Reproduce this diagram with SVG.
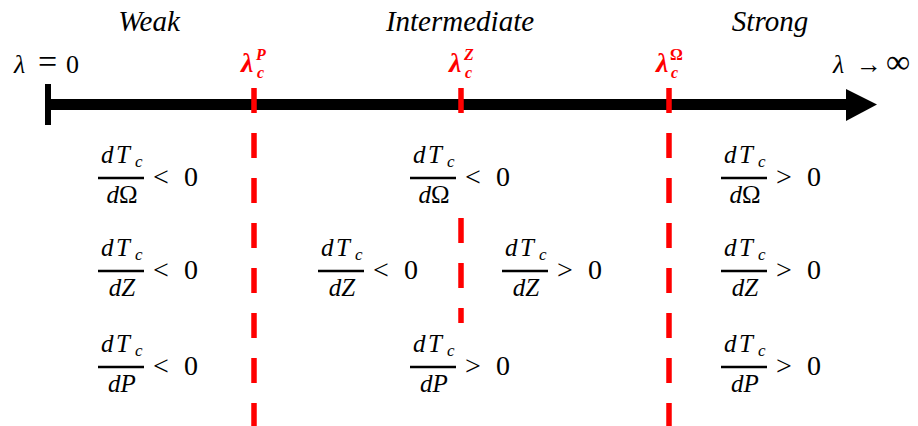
<svg xmlns="http://www.w3.org/2000/svg" width="918" height="426" viewBox="0 0 918 426">
<defs>
  <marker id="unused" markerWidth="1" markerHeight="1"/>
</defs>

<!-- regime headings -->
<g id="head-weak"><text x="149" y="31" text-anchor="middle" font-family="Liberation Serif, serif" font-size="29" font-style="italic">Weak</text></g>
<g id="head-intermediate"><text x="460" y="31" text-anchor="middle" font-family="Liberation Serif, serif" font-size="29" font-style="italic">Intermediate</text></g>
<g id="head-strong"><text x="770" y="31" text-anchor="middle" font-family="Liberation Serif, serif" font-size="29" font-style="italic">Strong</text></g>

<!-- axis end labels -->
<g id="label-zero">
  <text y="73" font-family="Liberation Serif, serif" font-size="26"><tspan font-style="italic" x="14">λ</tspan><tspan x="38" font-size="34">=</tspan><tspan x="66">0</tspan></text>
</g>
<g id="label-inf">
  <text y="73" font-family="Liberation Serif, serif" font-size="26"><tspan font-style="italic" x="833">λ</tspan><tspan x="856">→</tspan><tspan x="886" font-size="34">∞</tspan></text>
</g>

<!-- critical points -->
<g id="lambda-P"><text x="241" y="72" fill="#ff0000" font-family="Liberation Serif, serif" font-size="28" font-style="italic" font-weight="bold">λ<tspan font-size="16" x="256" y="60">P</tspan><tspan font-size="16" x="257" y="78">c</tspan></text></g>
<g id="lambda-Z"><text x="449" y="72" fill="#ff0000" font-family="Liberation Serif, serif" font-size="28" font-style="italic" font-weight="bold">λ<tspan font-size="16" x="464" y="60">Z</tspan><tspan font-size="16" x="465" y="78">c</tspan></text></g>
<g id="lambda-Omega"><text x="656" y="72" fill="#ff0000" font-family="Liberation Serif, serif" font-size="28" font-style="italic" font-weight="bold">λ<tspan font-size="16" font-style="normal" x="670" y="60">Ω</tspan><tspan font-size="16" x="671" y="78">c</tspan></text></g>

<!-- axis and dividers -->
<g id="connectors">
  <line x1="48" y1="104.5" x2="850" y2="104.5" stroke="#000" stroke-width="11"/>
  <rect x="45" y="84" width="6" height="41" fill="#000"/>
  <polygon points="846,89 877,104.5 846,121" fill="#000"/>
  <g stroke="#ff0000" stroke-width="5.5" stroke-dasharray="25 20" fill="none">
    <line x1="254" y1="88" x2="254" y2="426"/>
    <line x1="461" y1="88" x2="461" y2="113"/>
    <line x1="461" y1="218" x2="461" y2="323"/>
    <line x1="669" y1="88" x2="669" y2="426"/>
  </g>
</g>

<!-- derivative expressions -->
<g id="weak-omega">
  <text y="163" font-family="Liberation Serif, serif" font-size="25" font-style="italic"><tspan x="101">d</tspan><tspan x="116">T</tspan><tspan font-size="17" x="135" y="167">c</tspan></text>
  <line stroke="#000" stroke-width="2.5" x1="98" y1="178" x2="144" y2="178"/>
  <text x="122" y="203" text-anchor="middle" font-family="Liberation Serif, serif" font-size="25" font-style="italic">d<tspan font-style="normal">Ω</tspan></text>
  <text y="186" font-family="Liberation Serif, serif" font-size="28"><tspan x="153">&lt;</tspan><tspan x="184">0</tspan></text>
</g>
<g id="weak-z">
  <text y="256" font-family="Liberation Serif, serif" font-size="25" font-style="italic"><tspan x="101">d</tspan><tspan x="116">T</tspan><tspan font-size="17" x="135" y="260">c</tspan></text>
  <line stroke="#000" stroke-width="2.5" x1="98" y1="271" x2="144" y2="271"/>
  <text x="122" y="296" text-anchor="middle" font-family="Liberation Serif, serif" font-size="25" font-style="italic">dZ</text>
  <text y="279" font-family="Liberation Serif, serif" font-size="28"><tspan x="153">&lt;</tspan><tspan x="184">0</tspan></text>
</g>
<g id="weak-p">
  <text y="352" font-family="Liberation Serif, serif" font-size="25" font-style="italic"><tspan x="101">d</tspan><tspan x="116">T</tspan><tspan font-size="17" x="135" y="356">c</tspan></text>
  <line stroke="#000" stroke-width="2.5" x1="98" y1="367" x2="144" y2="367"/>
  <text x="122" y="392" text-anchor="middle" font-family="Liberation Serif, serif" font-size="25" font-style="italic">dP</text>
  <text y="375" font-family="Liberation Serif, serif" font-size="28"><tspan x="153">&lt;</tspan><tspan x="184">0</tspan></text>
</g>

<g id="mid-omega">
  <text y="163" font-family="Liberation Serif, serif" font-size="25" font-style="italic"><tspan x="413">d</tspan><tspan x="428">T</tspan><tspan font-size="17" x="447" y="167">c</tspan></text>
  <line stroke="#000" stroke-width="2.5" x1="410" y1="178" x2="456" y2="178"/>
  <text x="434" y="203" text-anchor="middle" font-family="Liberation Serif, serif" font-size="25" font-style="italic">d<tspan font-style="normal">Ω</tspan></text>
  <text y="186" font-family="Liberation Serif, serif" font-size="28"><tspan x="465">&lt;</tspan><tspan x="496">0</tspan></text>
</g>
<g id="mid-z-low">
  <text y="256" font-family="Liberation Serif, serif" font-size="25" font-style="italic"><tspan x="321">d</tspan><tspan x="336">T</tspan><tspan font-size="17" x="355" y="260">c</tspan></text>
  <line stroke="#000" stroke-width="2.5" x1="318" y1="271" x2="364" y2="271"/>
  <text x="342" y="296" text-anchor="middle" font-family="Liberation Serif, serif" font-size="25" font-style="italic">dZ</text>
  <text y="279" font-family="Liberation Serif, serif" font-size="28"><tspan x="373">&lt;</tspan><tspan x="404">0</tspan></text>
</g>
<g id="mid-z-high">
  <text y="256" font-family="Liberation Serif, serif" font-size="25" font-style="italic"><tspan x="505">d</tspan><tspan x="520">T</tspan><tspan font-size="17" x="539" y="260">c</tspan></text>
  <line stroke="#000" stroke-width="2.5" x1="502" y1="271" x2="548" y2="271"/>
  <text x="526" y="296" text-anchor="middle" font-family="Liberation Serif, serif" font-size="25" font-style="italic">dZ</text>
  <text y="279" font-family="Liberation Serif, serif" font-size="28"><tspan x="557">&gt;</tspan><tspan x="588">0</tspan></text>
</g>
<g id="mid-p">
  <text y="352" font-family="Liberation Serif, serif" font-size="25" font-style="italic"><tspan x="413">d</tspan><tspan x="428">T</tspan><tspan font-size="17" x="447" y="356">c</tspan></text>
  <line stroke="#000" stroke-width="2.5" x1="410" y1="367" x2="456" y2="367"/>
  <text x="434" y="392" text-anchor="middle" font-family="Liberation Serif, serif" font-size="25" font-style="italic">dP</text>
  <text y="375" font-family="Liberation Serif, serif" font-size="28"><tspan x="465">&gt;</tspan><tspan x="496">0</tspan></text>
</g>

<g id="strong-omega">
  <text y="163" font-family="Liberation Serif, serif" font-size="25" font-style="italic"><tspan x="724">d</tspan><tspan x="739">T</tspan><tspan font-size="17" x="758" y="167">c</tspan></text>
  <line stroke="#000" stroke-width="2.5" x1="721" y1="178" x2="767" y2="178"/>
  <text x="745" y="203" text-anchor="middle" font-family="Liberation Serif, serif" font-size="25" font-style="italic">d<tspan font-style="normal">Ω</tspan></text>
  <text y="186" font-family="Liberation Serif, serif" font-size="28"><tspan x="776">&gt;</tspan><tspan x="807">0</tspan></text>
</g>
<g id="strong-z">
  <text y="256" font-family="Liberation Serif, serif" font-size="25" font-style="italic"><tspan x="724">d</tspan><tspan x="739">T</tspan><tspan font-size="17" x="758" y="260">c</tspan></text>
  <line stroke="#000" stroke-width="2.5" x1="721" y1="271" x2="767" y2="271"/>
  <text x="745" y="296" text-anchor="middle" font-family="Liberation Serif, serif" font-size="25" font-style="italic">dZ</text>
  <text y="279" font-family="Liberation Serif, serif" font-size="28"><tspan x="776">&gt;</tspan><tspan x="807">0</tspan></text>
</g>
<g id="strong-p">
  <text y="352" font-family="Liberation Serif, serif" font-size="25" font-style="italic"><tspan x="724">d</tspan><tspan x="739">T</tspan><tspan font-size="17" x="758" y="356">c</tspan></text>
  <line stroke="#000" stroke-width="2.5" x1="721" y1="367" x2="767" y2="367"/>
  <text x="745" y="392" text-anchor="middle" font-family="Liberation Serif, serif" font-size="25" font-style="italic">dP</text>
  <text y="375" font-family="Liberation Serif, serif" font-size="28"><tspan x="776">&gt;</tspan><tspan x="807">0</tspan></text>
</g>
</svg>
